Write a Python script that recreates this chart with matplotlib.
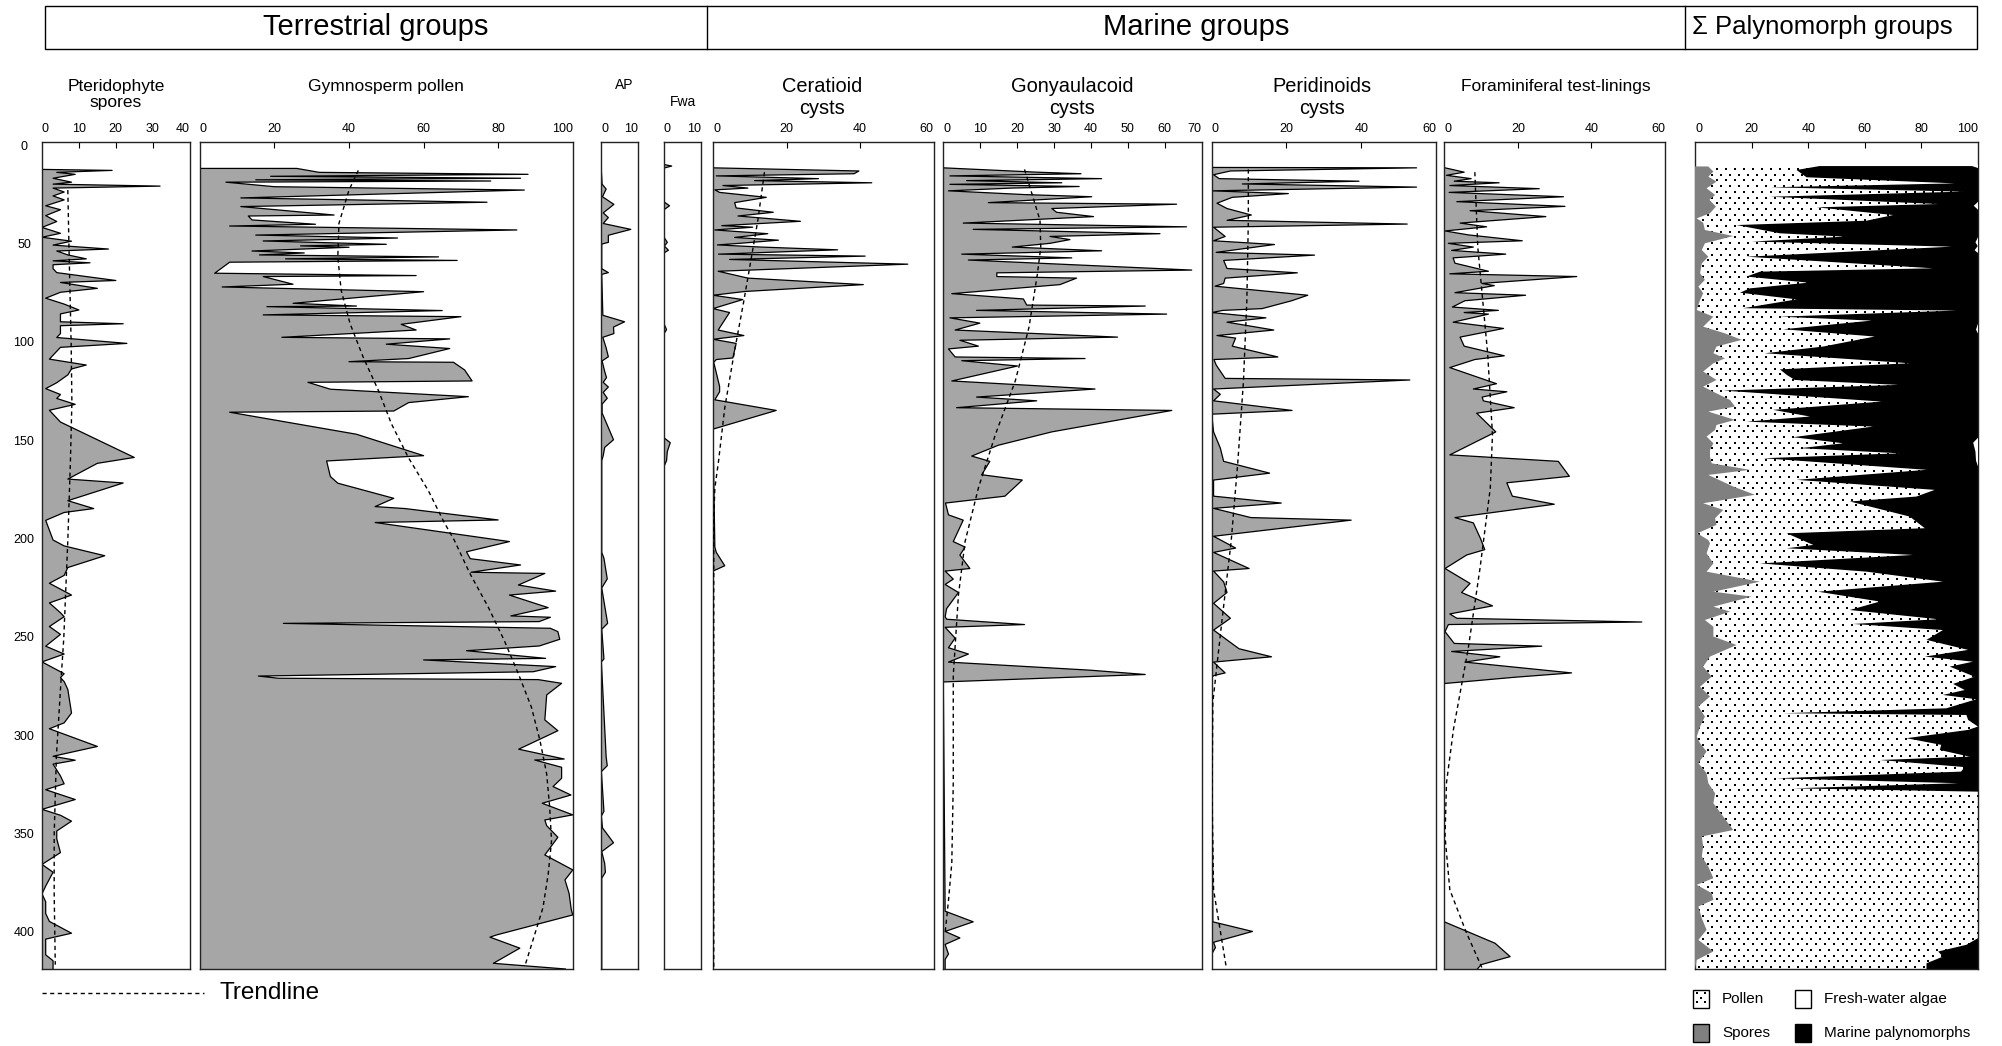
import numpy as np
import matplotlib.pyplot as plt
from matplotlib.patches import Rectangle

plt.rcParams['font.family'] = ['Liberation Sans', 'DejaVu Sans']

W, H = 2002, 1046

# ---- samples: (depth, percent) for every group ----
pteridophyte = [(11.5, 0), (12, 19), (13, 4), (14, 9), (16, 3), (18, 8), (19, 3), (20, 32), (21, 3),
                (23, 6), (25, 3), (27, 6), (30, 1), (32, 5), (35, 1), (38, 4), (41, 0), (44, 5), (46, 0),
                (48, 8), (50, 3), (52, 18), (53, 4), (55, 7), (57, 12), (58, 3), (59, 13), (60, 3), (62, 3),
                (64, 4), (68, 20), (69, 5), (72, 15), (74, 5), (77, 1), (80, 6), (83, 10), (85, 5), (89, 5),
                (90, 22), (91, 5), (95, 5), (97, 4), (100, 23), (102, 5), (108, 2), (111, 12), (113, 8),
                (116, 7), (120, 4), (123, 1), (126, 5), (128, 4), (131, 9), (134, 2), (140, 5), (158, 25),
                (161, 15), (169, 7), (171, 22), (180, 7), (184, 14), (186, 6), (190, 1), (200, 3), (203, 6),
                (208, 17), (214, 7), (218, 6), (222, 2), (228, 8), (232, 2), (237, 5), (239, 6), (244, 2),
                (248, 5), (251, 3), (254, 1), (258, 6), (262, 0), (268, 6), (270, 5), (272, 6), (276, 7),
                (288, 8), (293, 6), (296, 2), (305, 15), (310, 3), (312, 9), (314, 3), (320, 5), (324, 6),
                (327, 1), (332, 9), (337, 0), (340, 5), (343, 8), (348, 4), (352, 4), (359, 5), (365, 0),
                (369, 3), (376, 1), (380, 0), (384, 1), (390, 1), (394, 2), (400, 8), (403, 1), (411, 1),
                (414, 3), (418.2, 3)]
pteridophyte_trend = [(22, 7), (50, 7.3), (100, 7.9), (130, 8.1), (160, 7.7), (200, 7), (250, 5.9),
                      (270, 5.2), (310, 3.9), (350, 3.3), (380, 3.3), (416, 3.6)]

gymnosperm = [(11, 26), (13, 32), (14, 88), (15, 19), (16, 86), (16.8, 15), (17.4, 78), (18, 7), (20.3, 20),
              (22, 87), (26, 11), (28.2, 77), (30.4, 11), (34.7, 36), (35.2, 13), (37.2, 14), (39.4, 31),
              (40.3, 8), (42.3, 85), (44.9, 15), (46.4, 53), (47.9, 17), (49.6, 50), (50.4, 27), (51.1, 40),
              (53, 14), (54, 28), (55, 16), (56, 64), (57, 23), (57.8, 69), (58.7, 8), (64.3, 4), (65.5, 58),
              (66, 17), (69.9, 25), (71.3, 6), (73.7, 60), (79.6, 25), (81, 42), (81.3, 18), (83.3, 65),
              (85.5, 17), (86.4, 70), (90.3, 54), (93.2, 58), (96.9, 22), (97.7, 67), (100.4, 50), (102.6, 67),
              (107.7, 56), (109.3, 40), (109.6, 68), (113.5, 71), (119.1, 73), (119.8, 29), (123.3, 35),
              (127.1, 72), (130.1, 56), (134.4, 52), (135, 8), (146.2, 42), (157.1, 60), (159.8, 34),
              (167.7, 35), (171.1, 37), (178.8, 52), (183, 47), (184, 55), (189.8, 80), (191.1, 47),
              (200.8, 83), (206, 71.5), (209.5, 72.5), (212.7, 86), (216.4, 72.7), (217, 92.5), (222.9, 85.4),
              (226, 95.4), (228, 83), (234.4, 93.4), (238.6, 83.4), (239.3, 94), (241.5, 91), (242.4, 22.4),
              (244.9, 94), (246.6, 96), (250.5, 96.5), (253.9, 91), (256.3, 71.5), (260.2, 92.7), (261, 60),
              (264.4, 95.4), (267, 89.4), (269.2, 15.7), (270.3, 21), (271, 90.7), (272.9, 97), (278.8, 93),
              (291.5, 92.5), (297, 96), (306.4, 85.5), (311.4, 97.7), (311.9, 89.8), (315.6, 97), (321.2, 97),
              (325.4, 94.7), (329.7, 99.5), (333.9, 91.8), (339.8, 100), (342.4, 92.5), (345.3, 93),
              (351.2, 96), (360.2, 92.5), (367.8, 100), (372.9, 97.9), (379.7, 99), (388.1, 99.6),
              (390.7, 100), (400.9, 79.5), (402, 77.8), (407.6, 85.8), (415.3, 78.7), (418.2, 98)]
gymnosperm_trend = [(12, 42.5), (22, 40), (39, 37.3), (56, 37), (73, 37.9), (90, 40.3), (107, 43.8),
                    (124, 47.9), (141, 51.4), (158, 55.9), (175, 61.3), (191, 65.5), (200, 68.2), (217, 72.4),
                    (234, 77.3), (251, 81.6), (268, 85.4), (285, 88.9), (302, 91.2), (319, 93), (336, 93.8),
                    (353, 94.3), (370, 93.4), (387, 92), (403, 89.4), (417, 87.1)]

ap = [(8.9, 0), (19, 0.3), (21.5, 1.4), (25.4, 0.4), (29.3, 3.5), (33.6, 0.6), (36, 2), (39, 0.6), (42, 8.1),
      (45, 2), (48.6, 2), (49.5, 0.2), (62, 0.2), (64, 2), (64.9, 0.2), (85.7, 0.5), (89, 6.4), (91.7, 3.4),
      (95, 3.5), (96.9, 0.5), (102.3, 1.4), (106.8, 2), (108.9, 0.3), (114.3, 1), (117.4, 1.5), (119.8, 0.6),
      (122.2, 2), (124.9, 0.6), (127.9, 1.7), (130.9, 0.3), (135.4, 0.3), (149, 3.4), (152.9, 1), (157.1, 0.6),
      (159.6, 0.2), (206.3, 0.2), (209.3, 0.8), (219.8, 1.7), (224.4, 0.2), (242.4, 1.8), (245.4, 0.2),
      (260.5, 0.8), (262, 0.1), (310.3, 1.4), (314.8, 1.7), (317.8, 0.1), (338, 0.8), (340.4, 0.1),
      (346.4, 0.4), (354, 3.4), (358.5, 0.2), (364.5, 1), (369, 1.2), (372, 0.2), (418.2, 0.2)]

fwa = [(9, 0), (9.8, 2.1), (10.8, 0), (28, 0), (30, 1.5), (32, 0), (46, 0), (48.6, 0.9), (50.5, 0.1),
       (52.6, 1.2), (54, 0), (90, 0), (93, 0.7), (95, 0), (148, 0), (150.5, 1.7), (155, 0.9), (159.6, 0.7),
       (162.6, 0), (418.2, 0)]

ceratioid = [(10.7, 0), (12.3, 39.7), (13.7, 38.4), (14.8, 0.9), (16.2, 28.7), (17.2, 11.3), (18.3, 43.2),
             (19.7, 2.7), (21, 9.5), (21.9, 0.5), (23.2, 1.8), (25.7, 14.5), (28.4, 5.9), (31.1, 6.3),
             (33.3, 16.4), (35.2, 6.8), (37.9, 23.8), (40.1, 2.4), (40.9, 10.8), (42.3, 0.5), (44.2, 14.9),
             (46.1, 5.9), (47.5, 17.8), (49.1, 7.2), (49.9, 1.2), (51, 13.1), (52.4, 33.9), (54.6, 1.5),
             (55.6, 41.4), (57.3, 4.5), (59.7, 53), (63.3, 1.4), (66.8, 9.5), (70.1, 40.9), (73.6, 8.6),
             (75.5, 0), (77.7, 8.1), (82.3, 0), (84.3, 4.5), (93.2, 1.4), (96, 8.4), (97.9, 0), (100, 6.3),
             (107.4, 5.4), (108.2, 0.9), (109.6, 0.2), (121.9, 1.8), (124.6, 1.8), (128.7, 0.5), (134.1, 17.2),
             (143.6, 0), (203.6, 0.5), (206.3, 0.9), (213.1, 3.2), (215.8, 0), (418.2, 0)]
ceratioid_trend = [(12.9, 14), (37.4, 12.2), (78.3, 8.4), (105.5, 5.7), (132.7, 3.2), (160, 1.5),
                   (173.6, 0.5), (190, 0.2), (418, 0.2)]

gonyaulacoid = [(10.7, 0), (12.9, 25.3), (13.7, 37.3), (14.8, 1.8), (16.2, 42.9), (17.2, 6.3), (18.3, 32.1),
                (19.1, 1.8), (20.2, 36.8), (21, 18.5), (22.4, 1.4), (24.3, 22), (25.4, 40.2), (28.4, 12.2),
                (29.2, 63.2), (31.4, 29.4), (33.3, 30.7), (35.5, 40.7), (38.8, 5.4), (40.7, 65.9), (42, 8.1),
                (44.2, 58.7), (45.6, 28.9), (47.2, 34.3), (49.1, 28.9), (51, 18.7), (52.9, 42.9), (54.6, 5),
                (56.5, 34.8), (57.6, 6.8), (62.7, 67.3), (64.1, 14.5), (66, 14.5), (66.8, 36.1), (70.1, 31.6),
                (74.7, 2.3), (77.4, 21.7), (80.5, 22.6), (81, 54.7), (83.2, 9), (85.1, 60.5), (87, 1.8),
                (89.7, 9.9), (93.2, 3.2), (96.8, 47.2), (98.4, 4.5), (101.4, 9.5), (102.8, 1.4), (106.9, 3.2),
                (107.7, 38.4), (108.8, 5), (111.5, 20.1), (119.1, 2.3), (123.2, 41.1), (127.3, 9),
                (129.2, 25.3), (132.7, 3.6), (134.1, 61.9), (145, 29.4), (151.8, 14.9), (157.3, 7.7),
                (160, 12.6), (166.8, 10.4), (169.5, 21.4), (177.7, 16.7), (181.2, 0.6), (187.2, 1.4),
                (189.9, 5.4), (200.8, 2.7), (203.6, 5.9), (207.7, 4.5), (214.5, 7.2), (215.8, 0.5),
                (219.9, 2.7), (222.6, 0.5), (226.7, 4.1), (234.9, 0.9), (239, 0.5), (240.3, 0.9), (243, 22),
                (244.4, 0.5), (249.9, 3.2), (254.8, 1.4), (258, 6.8), (262.1, 1.4), (266.2, 39.7),
                (268.4, 54.7), (272.2, 0), (388.8, 0.5), (394.2, 8.1), (399.1, 0.5), (402.4, 4.5),
                (405.7, 0.5), (410.6, 1.4), (413.3, 0.5), (418.2, 0.5)]
gonyaulacoid_trend = [(11.5, 22), (37.4, 26.2), (51, 26.4), (64.6, 25.5), (91.9, 23.2), (119.1, 19.5),
                      (146.4, 14.1), (173.6, 9.5), (200.8, 5.9), (228, 4.1), (268.9, 2.7), (323.4, 2.7),
                      (364.3, 2.3), (383.4, 1.4), (399.7, 0.5)]

peridinoid = [(10.5, 0), (10.7, 54.8), (12.3, 5), (14.2, 0.5), (16.2, 2), (17.5, 39.4), (18.9, 8.2),
              (20.5, 54.8), (22.4, 0), (23.8, 20.5), (25.7, 5.5), (28.7, 1.4), (31.4, 4.1), (34.7, 10.6),
              (37.4, 4.1), (39.3, 52.3), (40.9, 0.5), (45.6, 3.6), (47.8, 0.5), (49.7, 16.8), (53.7, 1.2),
              (55.1, 27.5), (57.8, 3.2), (61.9, 4.1), (64.1, 22.9), (66.8, 3.6), (69.5, 3.2), (70.9, 0.9),
              (75.5, 25.7), (78.3, 21.4), (82.3, 13.5), (83.2, 3), (84.3, 0), (87, 14.5), (89.2, 4.1),
              (93.2, 16.6), (96, 1.4), (97.3, 6.4), (101.4, 5.5), (106.9, 17.7), (108.2, 0.6), (111, 1.2),
              (117.8, 3.6), (118.6, 53), (123.2, 0.5), (125.9, 2.3), (129.2, 0.5), (134.1, 21.5), (136, 0),
              (145, 0.5), (153.2, 2.3), (160, 3.2), (166, 15.5), (169.5, 0.5), (177.7, 0.5), (181.2, 18.6),
              (183.9, 0.5), (188.6, 10.5), (189.9, 37.3), (198.1, 0.5), (204.1, 6.4), (206.3, 0.5),
              (214.5, 10), (215.8, 0.5), (221.3, 3.2), (226.7, 4.1), (232.2, 0.5), (239.8, 5), (241.7, 3.6),
              (245.8, 0.5), (255.3, 7.3), (259.4, 16), (262.1, 0.5), (267.6, 3.6), (269, 0.5), (270, 0),
              (394.2, 0.3), (399.1, 10.9), (404.6, 0.5), (407.3, 1), (410.6, 0), (418.2, 0)]
peridinoid_trend = [(11.5, 9.8), (37.4, 9.8), (78.3, 9.4), (119.1, 8.5), (160, 7), (200.8, 5.2),
                    (241.7, 2.7), (282.6, 0.3), (330, 0.1), (377.9, 0.5), (417.4, 3.9)]

foraminifera = [(10.7, 0.2), (12.9, 5.4), (14.5, 0.6), (16.2, 7.3), (17.5, 2.7), (18.3, 14.9), (19.7, 1.5),
                (21.3, 25.8), (23.2, 1.3), (25.4, 32.4), (27.9, 3.4), (30.3, 32.8), (32.5, 7), (35.5, 27.6),
                (38.8, 4.3), (40.7, 11.5), (42.8, 0.2), (44.8, 6.5), (47.8, 21.2), (49.1, 1.1), (51, 7.9),
                (52.7, 2), (54.6, 16.7), (56.5, 2.4), (59.2, 2.9), (63.3, 12), (64.6, 1.5), (66, 36),
                (69.5, 10.2), (70.6, 13.6), (74.2, 2.9), (75.5, 22.1), (78.3, 5.6), (81.5, 2.2), (83.2, 14.7),
                (84.3, 5.4), (85.1, 12), (89.2, 2.4), (92.4, 16.1), (96.8, 4.3), (101.4, 5.4), (106.3, 16.3),
                (108.2, 8.3), (112.3, 1.5), (120.5, 14.2), (123.2, 7.9), (124.6, 17), (127.3, 10.3),
                (129.2, 10.6), (132.7, 19), (135.5, 8.8), (145, 14), (156.7, 1.5), (160, 31), (167.6, 34),
                (170.9, 17), (177.7, 18.5), (181.8, 29.9), (188.6, 2.9), (191.3, 7.9), (199.5, 9.9),
                (204.9, 11), (207.6, 6.1), (214.5, 0.2), (222.1, 7), (226.7, 4.7), (233.5, 13.1), (237.6, 1.5),
                (239.8, 3.4), (241.7, 53.7), (243, 1.1), (246.6, 0.2), (252.6, 2.7), (254, 26.5), (256.7, 2),
                (259.4, 15.1), (262.1, 5.6), (267.6, 34.6), (269.8, 19.2), (273, 0), (394.2, 0),
                (405.1, 13.8), (411.9, 17.9), (416, 10), (418.2, 9)]
foraminifera_trend = [(12.9, 8.3), (51, 9.1), (105.5, 11.8), (146.4, 13.1), (173.6, 12.5), (214.5, 9.7),
                      (255.3, 6.5), (296.2, 2.5), (323.4, 0.6), (350.7, 0.2), (377.9, 1.5), (399.7, 6),
                      (417.4, 10.2)]

# sum diagram: spores (from left), pollen + spores upper edge, fresh-water algae taken from Fwa
sum_spores = [(10, 4.7), (12.6, 6.5), (15.2, 4.7), (17.7, 7.6), (21.1, 4.1), (24.5, 7.1), (27, 5.1),
              (30.4, 7.4), (33.8, 5.3), (36.4, 0.6), (38.6, 2.9), (42.3, 3.5), (45.4, 13.5), (49.1, 3.5),
              (52.5, 2.4), (55.9, 4.7), (59.3, 2.4), (64.3, 1.8), (67.7, 3.5), (71.1, 1.2), (74.5, 2.9),
              (77.9, 1.8), (83, 0.6), (86.4, 6.5), (91.5, 2.9), (94.9, 10.6), (98.2, 16.5), (101.6, 7.6),
              (105, 6.5), (107.6, 10.6), (110.1, 6.5), (114.3, 2.9), (118.6, 7.6), (122, 2.9), (125.4, 7.6),
              (128.8, 12.4), (132.1, 14.1), (134.7, 4.7), (138.9, 14.1), (141.5, 7.6), (144, 7.1),
              (147.4, 4.1), (150.8, 6.5), (154.2, 5.3), (157.6, 5.3), (161, 5.9), (164.3, 19.4), (166.9, 4.7),
              (172.8, 13.5), (177, 21.2), (181.3, 2.9), (184.7, 10), (188.9, 7.1), (192.3, 7.6), (196.6, 0.8),
              (200, 4.7), (201.7, 5.3), (206.8, 4.1), (211.9, 6.5), (216.1, 4.1), (221.2, 22.9), (226.3, 6.5),
              (228.8, 20), (233.9, 6.5), (236.4, 12.4), (240.7, 3.5), (244.1, 6.5), (249.1, 6.5),
              (253.4, 14.7), (259.3, 5.3), (264.4, 2.9), (269.5, 5.9), (274.6, 1.8), (279.6, 5.3),
              (284.7, 1.2), (289.8, 3.5), (294.9, 1.8), (300, 0.6), (303.4, 1.8), (307.6, 4.1), (313.5, 1.2),
              (318.6, 4.1), (323.7, 4.7), (328.8, 7.1), (333.9, 6.5), (340.7, 10), (347.5, 13.5),
              (350.8, 2.4), (355.9, 2.9), (361, 2.4), (366.1, 4.7), (372, 6.5), (375.4, 0.6), (379.6, 5.9),
              (383, 6.5), (386.4, 1.2), (392.4, 2.4), (398.3, 4.1), (403.4, 1.2), (409.3, 6.5), (413.6, 0.6),
              (418.2, 0)]
sum_terrestrial = [(9.8, 44), (11.8, 35.9), (15.5, 39.4), (18.6, 91.8), (20.6, 26.5), (22.8, 94.7),
                   (25.4, 26.5), (29.1, 85.9), (30.8, 43), (34.7, 70), (37.6, 60.6), (39.8, 14.7), (44, 30),
                   (45.7, 52.9), (48.2, 20), (50.8, 90.6), (55.9, 18.2), (61.8, 84.1), (63.5, 23), (66, 18.2),
                   (69.1, 40), (72, 19.4), (74.2, 15.9), (77.6, 35.9), (82.1, 17), (83.3, 92.4), (86.4, 30),
                   (88.4, 62.4), (92.8, 31.2), (96.5, 63.5), (101.6, 45.3), (105, 24.7), (110.1, 75.9),
                   (113.2, 30), (116, 32.4), (118.6, 35.3), (121.1, 71.8), (124, 10), (129.6, 65.9),
                   (133.8, 27.6), (137.2, 40.6), (139.8, 18.2), (142.3, 62.9), (147.7, 34.7), (150.8, 52.4),
                   (153.3, 37.1), (155.9, 72.4), (158.4, 24.1), (164.3, 81.8), (169.4, 35.9), (174.5, 84.7),
                   (177.9, 78.2), (180.4, 54.7), (188.1, 75.9), (194, 81.2), (196.6, 32.4), (202.5, 41.8),
                   (204.2, 32.4), (207.6, 77), (211.9, 23), (216.1, 60.6), (221.2, 87.6), (226.3, 43.5),
                   (231.3, 65.3), (235.6, 54.7), (240.3, 85.9), (242.7, 55.9), (245.8, 87.6), (250.8, 81.8),
                   (255.9, 96.5), (259.3, 81.2), (261.9, 98.2), (264.4, 90), (269.5, 98.8), (273.2, 91.2),
                   (276.3, 95.3), (278.8, 87.6), (281, 99.4), (285.6, 88.8), (288.1, 31.2), (289, 95.9),
                   (291.5, 96.5), (294.9, 100), (296.6, 96.5), (300.8, 74.7), (304.2, 87), (306.8, 86.5),
                   (310.2, 97), (311.9, 65.3), (315.5, 95.3), (317.8, 94), (321.2, 28.8), (323.7, 93),
                   (326.3, 34.7), (328, 100), (402.5, 100), (405.9, 95.9), (409.3, 85.9), (411.9, 87.6),
                   (415.3, 81.8), (418.2, 81.8)]

depth_ticks = [0, 50, 100, 150, 200, 250, 300, 350, 400]

GREY = '#a6a6a6'
SUM_GREY = '#808080'
TREND_STYLE = (0, (3, 2.5))

fig = plt.figure(figsize=(W / 100, H / 100), dpi=100)
page = fig.add_axes([0, 0, 1, 1])
page.set_xlim(0, W)
page.set_ylim(H, 0)
page.axis('off')

TOP, BOTTOM = 142, 969
D_TOP, D_BOT = -2.44, 418.2
PX_PER_DEPTH = (BOTTOM - TOP) / (D_BOT - D_TOP)


def add_panel(x0, x1, ticks):
    ax = fig.add_axes([x0 / W, 1 - BOTTOM / H, (x1 - x0) / W, (BOTTOM - TOP) / H])
    ax.set_xlim(ticks[0], ticks[-1])
    ax.set_ylim(D_BOT, D_TOP)
    ax.set_yticks([])
    ax.xaxis.tick_top()
    ax.set_xticks(ticks[1:-1])
    ax.tick_params(axis='x', direction='in', length=4, width=0.8, labeltop=False, labelbottom=False)
    for s in ax.spines.values():
        s.set_linewidth(1.0)
        s.set_color('#222222')
    # scale labels kept inside the frame at both ends
    for i, t in enumerate(ticks):
        px = x0 + (t - ticks[0]) / (ticks[-1] - ticks[0]) * (x1 - x0)
        ha = 'left' if i == 0 else ('right' if i == len(ticks) - 1 else 'center')
        page.text(px, 129, str(t), ha=ha, va='center', fontsize=9)
    return ax


def draw_curve(ax, series, trend=None):
    d, v = np.array(series, dtype=float).T
    ax.fill_betweenx(d, 0, v, facecolor=GREY, edgecolor='none', zorder=1)
    ax.plot(np.r_[0, v], np.r_[d[0], d], color='k', lw=0.9, zorder=2)
    if trend is not None:
        td, tv = np.array(trend, dtype=float).T
        ax.plot(tv, td, color='k', lw=1.0, ls=TREND_STYLE, zorder=3)


def dot_grid(x0, x1, y0, y1, col_px=9.0, row_px=5.7):
    # staggered grid of square dots (pixel units)
    xs, ys = [], []
    for i, y in enumerate(np.arange(y0, y1, row_px)):
        start = x0 + (0 if i % 2 == 0 else col_px / 2)
        cols = np.arange(start, x1, col_px)
        xs.extend(cols)
        ys.extend([y] * len(cols))
    return np.array(xs), np.array(ys)


panels = [
    (42, 189.6, [0, 10, 20, 30, 40], pteridophyte, pteridophyte_trend),
    (199.8, 572.8, [0, 20, 40, 60, 80, 100], gymnosperm, gymnosperm_trend),
    (601, 637.8, [0, 10], ap, None),
    (664, 700.7, [0, 10], fwa, None),
    (713, 933.5, [0, 20, 40, 60], ceratioid, ceratioid_trend),
    (943.3, 1201.7, [0, 10, 20, 30, 40, 50, 60, 70], gonyaulacoid, gonyaulacoid_trend),
    (1211.7, 1436, [0, 20, 40, 60], peridinoid, peridinoid_trend),
    (1444.3, 1665, [0, 20, 40, 60], foraminifera, foraminifera_trend),
]
for x0, x1, ticks, series, trend in panels:
    ax = add_panel(x0, x1, ticks)
    draw_curve(ax, series, trend)

# sum diagram: pollen dots underneath, other groups stacked over them
SX0, SX1 = 1695, 1978
ax = add_panel(SX0, SX1, [0, 20, 40, 60, 80, 100])
sd, sv = np.array(sum_spores, dtype=float).T
td, tv = np.array(sum_terrestrial, dtype=float).T
fd, fv = np.array(fwa, dtype=float).T
gx, gy = dot_grid(3.5, SX1 - SX0, (td[0] - D_TOP) * PX_PER_DEPTH + 3, BOTTOM - TOP)
ax.scatter(gx / (SX1 - SX0) * 100, D_TOP + gy / PX_PER_DEPTH, marker='s', s=4.5, c='k',
           linewidths=0, zorder=1.5)
ax.fill_betweenx(td, tv, 100, facecolor='black', edgecolor='none', zorder=2)
ax.fill_betweenx(fd, 100 - fv, 100, facecolor='white', edgecolor='none', zorder=3)
ax.fill_betweenx(sd, 0, sv, facecolor=SUM_GREY, edgecolor='none', zorder=4)

# depth scale
for d in depth_ticks:
    page.text(24, 146.8 + d * 1.966, str(d), ha='center', va='center', fontsize=9)

# panel titles
page.text(116, 87, 'Pteridophyte', ha='center', va='center', fontsize=12.5)
page.text(116, 102, 'spores', ha='center', va='center', fontsize=12.5)
page.text(386, 87, 'Gymnosperm pollen', ha='center', va='center', fontsize=12.5)
page.text(624, 85, 'AP', ha='center', va='center', fontsize=10)
page.text(683, 102, 'Fwa', ha='center', va='center', fontsize=10)
for x, name in [(822, 'Ceratioid'), (1072.5, 'Gonyaulacoid'), (1321.5, 'Peridinoids')]:
    page.text(x, 87, name, ha='center', va='center', fontsize=14.4)
    page.text(x, 108, 'cysts', ha='center', va='center', fontsize=14.4)
page.text(1556, 87, 'Foraminiferal test-linings', ha='center', va='center', fontsize=12.5)

# group header
page.add_patch(Rectangle((44.7, 6.4), 1976.5 - 44.7, 48.5 - 6.4, fill=False, lw=1.0, ec='k'))
for x in (707, 1685):
    page.plot([x, x], [6.4, 48.5], color='k', lw=1.0)
page.text(376, 27, 'Terrestrial groups', ha='center', va='center', fontsize=21)
page.text(1196, 27, 'Marine groups', ha='center', va='center', fontsize=21)
page.text(1822, 27, '\u03a3 Palynomorph groups', ha='center', va='center', fontsize=18.5)

# trendline key
page.plot([42, 204], [993, 993], color='k', lw=1.0, ls=TREND_STYLE)
page.text(220, 993, 'Trendline', ha='left', va='center', fontsize=17.5)

# sum diagram key
keys = [(1693, 990, 'white', 'Pollen'),
        (1795, 990, 'white', 'Fresh-water algae'),
        (1693, 1024, SUM_GREY, 'Spores'),
        (1795, 1024, 'black', 'Marine palynomorphs')]
for x, y, colour, label in keys:
    page.add_patch(Rectangle((x, y), 16, 18, facecolor=colour, edgecolor='k', lw=1.0))
    page.text(x + 29, y + 9, label, ha='left', va='center', fontsize=11)
kx, ky = dot_grid(1696.5, 1707, 993, 1006, col_px=8, row_px=4.5)
page.scatter(kx, ky, marker='s', s=3.2, c='k', linewidths=0)

fig.savefig('out.png', dpi=100)
